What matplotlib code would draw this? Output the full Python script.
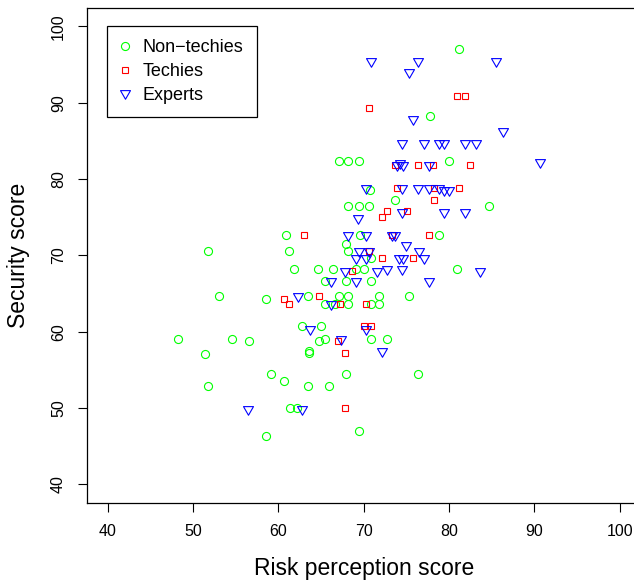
import numpy as np
import matplotlib.pyplot as plt
from matplotlib.path import Path
from matplotlib.lines import Line2D

plt.rcParams['font.family'] = ['Liberation Sans', 'DejaVu Sans']

# Non-techies (green circles)
nontech_x = [81.2, 77.7, 67.1, 68.2, 69.4, 80.0, 70.7, 73.6, 68.2, 69.4, 70.6, 84.7,
             60.9, 69.6, 78.8, 51.8, 61.2, 67.9, 68.2, 70.9, 61.8, 64.6, 66.4, 69.1,
             70.0, 80.9, 65.4, 67.9, 70.9, 53.0, 58.5, 63.5, 67.1, 68.2, 71.8, 75.3,
             65.4, 66.6, 68.2, 70.9, 71.8, 62.8, 65.0, 48.2, 54.5, 56.5, 64.7, 65.4,
             70.9, 72.7, 51.4, 63.6, 63.6, 59.1, 67.9, 76.4, 60.7, 51.8, 63.5, 65.9,
             61.4, 62.2, 58.5, 69.4]
nontech_y = [97.0, 88.2, 82.4, 82.4, 82.4, 82.4, 78.5, 77.2, 76.5, 76.5, 76.5, 76.5,
             72.7, 72.7, 72.7, 70.6, 70.6, 71.5, 70.6, 69.7, 68.2, 68.2, 68.2, 68.2,
             68.2, 68.2, 66.6, 66.6, 66.6, 64.7, 64.3, 64.7, 64.7, 64.7, 64.7, 64.7,
             63.6, 63.6, 63.6, 63.6, 63.6, 60.7, 60.7, 59.1, 59.1, 58.8, 58.8, 59.1,
             59.1, 59.1, 57.1, 57.5, 57.2, 54.5, 54.5, 54.5, 53.5, 52.9, 52.9, 52.9,
             50.0, 50.0, 46.4, 47.0]

# Techies (red squares)
tech_x = [80.9, 81.8, 70.6, 73.7, 76.4, 78.1, 82.4, 73.9, 78.2, 81.2, 78.2, 72.7,
          75.1, 72.1, 63.0, 77.6, 73.3, 70.6, 72.1, 75.8, 68.6, 60.7, 61.2, 64.7,
          67.2, 70.3, 70.0, 70.9, 67.0, 67.8, 67.8]
tech_y = [90.9, 90.9, 89.3, 81.8, 81.8, 81.8, 81.8, 78.8, 78.8, 78.8, 77.3, 75.8,
          75.8, 75.0, 72.7, 72.7, 72.7, 70.6, 69.7, 69.7, 67.9, 64.3, 63.6, 64.7,
          63.6, 63.6, 60.7, 60.7, 58.8, 57.2, 50.0]

# Experts (blue down-triangles)
expert_x = [70.9, 76.4, 85.5, 75.3, 75.8, 86.3, 74.5, 77.0, 78.8, 79.4, 81.8, 83.1,
            90.6, 73.9, 74.3, 74.6, 77.6, 70.3, 74.5, 76.4, 77.6, 78.8, 79.4, 80.0,
            74.5, 79.4, 81.8, 69.3, 68.1, 70.3, 73.3, 73.6, 75.0, 69.4, 70.6, 76.5,
            69.1, 70.3, 74.1, 74.6, 77.0, 67.8, 71.5, 72.7, 74.5, 83.6, 66.1, 69.1,
            77.6, 62.3, 66.1, 63.7, 70.3, 67.3, 72.1, 56.4, 62.8]
expert_y = [95.4, 95.4, 95.4, 94.0, 87.8, 86.3, 84.7, 84.7, 84.7, 84.7, 84.7, 84.7,
            82.2, 81.8, 82.1, 81.8, 81.8, 78.8, 78.8, 78.8, 78.8, 78.8, 78.5, 78.5,
            75.7, 75.7, 75.7, 74.9, 72.7, 72.7, 72.7, 72.7, 71.4, 70.6, 70.6, 70.6,
            69.7, 69.7, 69.7, 69.7, 69.7, 67.9, 67.9, 68.2, 68.2, 67.9, 66.6, 66.6,
            66.6, 64.7, 63.6, 60.4, 60.4, 59.1, 57.5, 49.9, 49.9]

ticks = [40, 50, 60, 70, 80, 90, 100]

# R-style equilateral down triangle (centred on centroid)
tri = Path([(-1, 0.5774), (1, 0.5774), (0, -1.1547), (-1, 0.5774)],
           [Path.MOVETO, Path.LINETO, Path.LINETO, Path.CLOSEPOLY])

styles = {
    'Non\u2212techies': dict(marker='o', color='#00FF00', ms=5.8),
    'Techies': dict(marker='s', color='#FF0000', ms=5.0),
    'Experts': dict(marker=tri, color='#0000FF', ms=8.3),
}

fig = plt.figure(figsize=(6.34, 5.82), dpi=100)
ax = fig.add_axes([87.3 / 634, 1 - 502.7 / 582, 553 / 634, 494.7 / 582])

for (lab, st), xs, ys in zip(styles.items(),
                             [nontech_x, tech_x, expert_x],
                             [nontech_y, tech_y, expert_y]):
    ax.plot(xs, ys, linestyle='none', marker=st['marker'], ms=st['ms'],
            mfc='none', mec=st['color'], mew=0.8)

ax.set_xlim(37.6, 102.4)
ax.set_ylim(37.6, 102.4)
ax.set_xticks(ticks)
ax.set_yticks(ticks)
ax.tick_params(direction='out', length=6.8, width=0.8, labelsize=11.5, pad=8.5)
ax.tick_params(axis='y', labelrotation=90)
for t in ax.get_yticklabels():
    t.set_va('center')
for sp in ax.spines.values():
    sp.set_linewidth(0.9)

ax.set_xlabel('Risk perception score', fontsize=16.5, va='center')
ax.xaxis.set_label_coords(0.5, -(568 - 502.7) / 494.7)
ax.set_ylabel('Security score', fontsize=16.5, va='center')
ax.yaxis.set_label_coords(-(87.3 - 18.2) / 553, 0.5)

handles = [Line2D([], [], linestyle='none', marker=st['marker'], ms=st['ms'],
                  mfc='none', mec=st['color'], mew=0.8) for st in styles.values()]
leg = ax.legend(handles, list(styles.keys()), loc='upper left',
                bbox_to_anchor=((107.3 - 87.3) / 553, 1 - (25.7 - 8) / 494.7),
                borderaxespad=0, fontsize=13, frameon=True, fancybox=False,
                framealpha=1, edgecolor='black', borderpad=0.75,
                handlelength=0.47, handletextpad=0.75, labelspacing=0.37)
leg.get_frame().set_linewidth(0.9)

fig.savefig('out.png', dpi=100)
